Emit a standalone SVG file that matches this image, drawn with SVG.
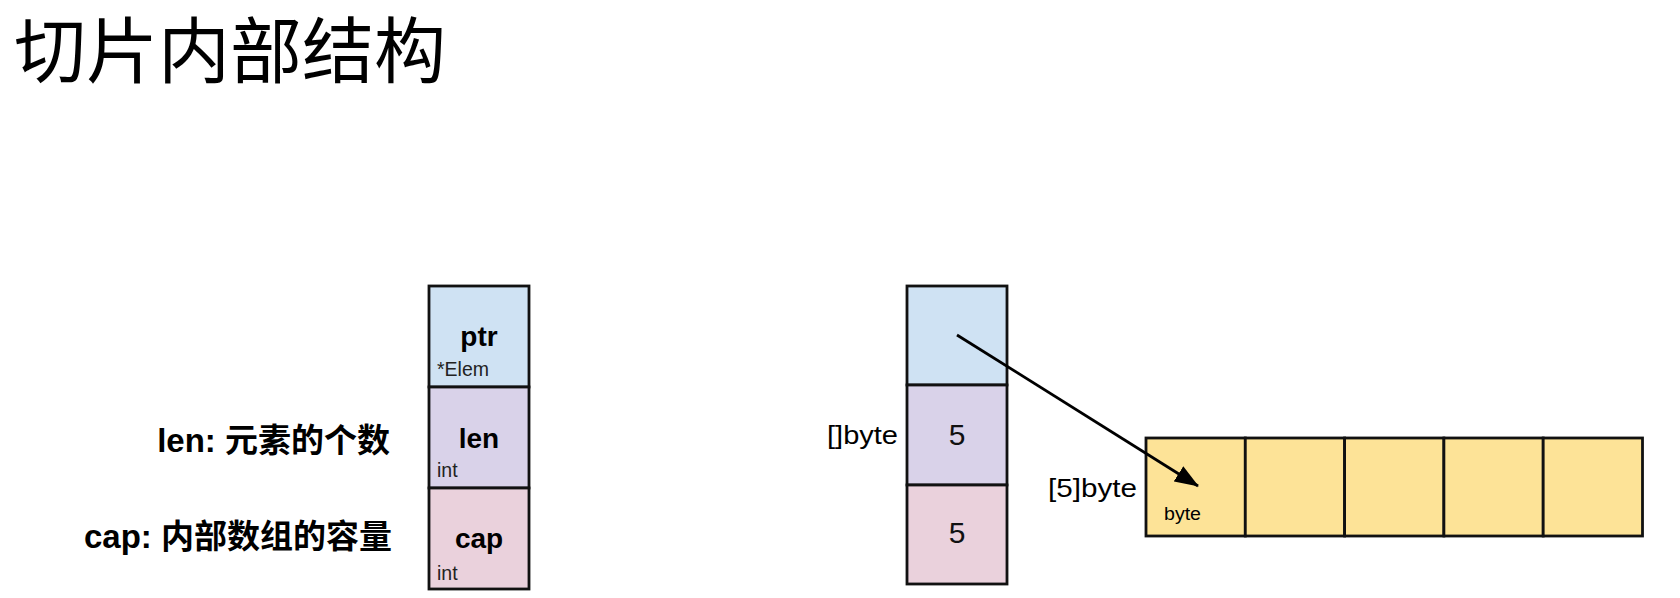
<svg xmlns="http://www.w3.org/2000/svg" width="1680" height="598" viewBox="0 0 1680 598">
<style>
.cell{stroke:#111;stroke-width:2.8}
.blue{fill:#cfe2f3}.purple{fill:#d9d2e9}.pink{fill:#ead1dc}.yellow{fill:#fde397}
.t{font-family:"Liberation Sans","Noto Sans CJK SC",sans-serif;fill:#000}
.big{font-size:28px;font-weight:bold;text-anchor:middle}
.small{font-size:19.5px;fill:#222}
.lbl{font-size:33px;font-weight:bold;text-anchor:end}
.num{font-size:30px;text-anchor:middle;fill:#111}
.title{font-family:"Noto Sans CJK SC","Liberation Sans",sans-serif;font-size:72px;fill:#000}
</style>
<defs>
<marker id="ah" markerWidth="24" markerHeight="18" refX="23" refY="9" orient="auto" markerUnits="userSpaceOnUse">
<path d="M0,0 L24,9 L0,18 z" fill="#000"/>
</marker>
</defs>
<rect width="1680" height="598" fill="#fff"/>
<text class="title" x="14" y="77">切片内部结构</text>

<g id="label-len"><text class="t lbl" x="390" y="452">len: 元素的个数</text></g>
<g id="label-cap"><text class="t lbl" x="392" y="548">cap: 内部数组的容量</text></g>

<g id="slice-struct">
<g id="ptr"><rect class="cell blue" x="429" y="286" width="100" height="101"/>
<text class="t big" x="479" y="346">ptr</text>
<text class="t small" x="437" y="376">*Elem</text></g>
<g id="len"><rect class="cell purple" x="429" y="387" width="100" height="101"/>
<text class="t big" x="479" y="448">len</text>
<text class="t small" x="437" y="477">int</text></g>
<g id="cap"><rect class="cell pink" x="429" y="488" width="100" height="101"/>
<text class="t big" x="479" y="548">cap</text>
<text class="t small" x="437" y="580">int</text></g>
</g>

<g id="slice-value">
<text class="t" x="827" y="444" font-size="26" textLength="71" lengthAdjust="spacingAndGlyphs">[]byte</text>
<g id="v-ptr"><rect class="cell blue" x="907" y="286" width="100" height="99"/></g>
<g id="v-len"><rect class="cell purple" x="907" y="385" width="100" height="100"/>
<text class="t num" x="957" y="445">5</text></g>
<g id="v-cap"><rect class="cell pink" x="907" y="485" width="100" height="99"/>
<text class="t num" x="957" y="543">5</text></g>
</g>

<g id="array">
<text class="t" x="1048" y="497" font-size="26" textLength="89" lengthAdjust="spacingAndGlyphs">[5]byte</text>
<rect class="cell yellow" x="1146" y="438" width="99.3" height="98"/>
<rect class="cell yellow" x="1245.3" y="438" width="99.3" height="98"/>
<rect class="cell yellow" x="1344.6" y="438" width="99.3" height="98"/>
<rect class="cell yellow" x="1443.9" y="438" width="99.3" height="98"/>
<rect class="cell yellow" x="1543.2" y="438" width="99.3" height="98"/>
<text class="t" x="1164" y="520" font-size="18" fill="#333" textLength="37" lengthAdjust="spacingAndGlyphs">byte</text>
</g>

<g id="connectors">
<line x1="957" y1="335" x2="1198" y2="486" stroke="#000" stroke-width="2.8" marker-end="url(#ah)"/>
</g>
</svg>
